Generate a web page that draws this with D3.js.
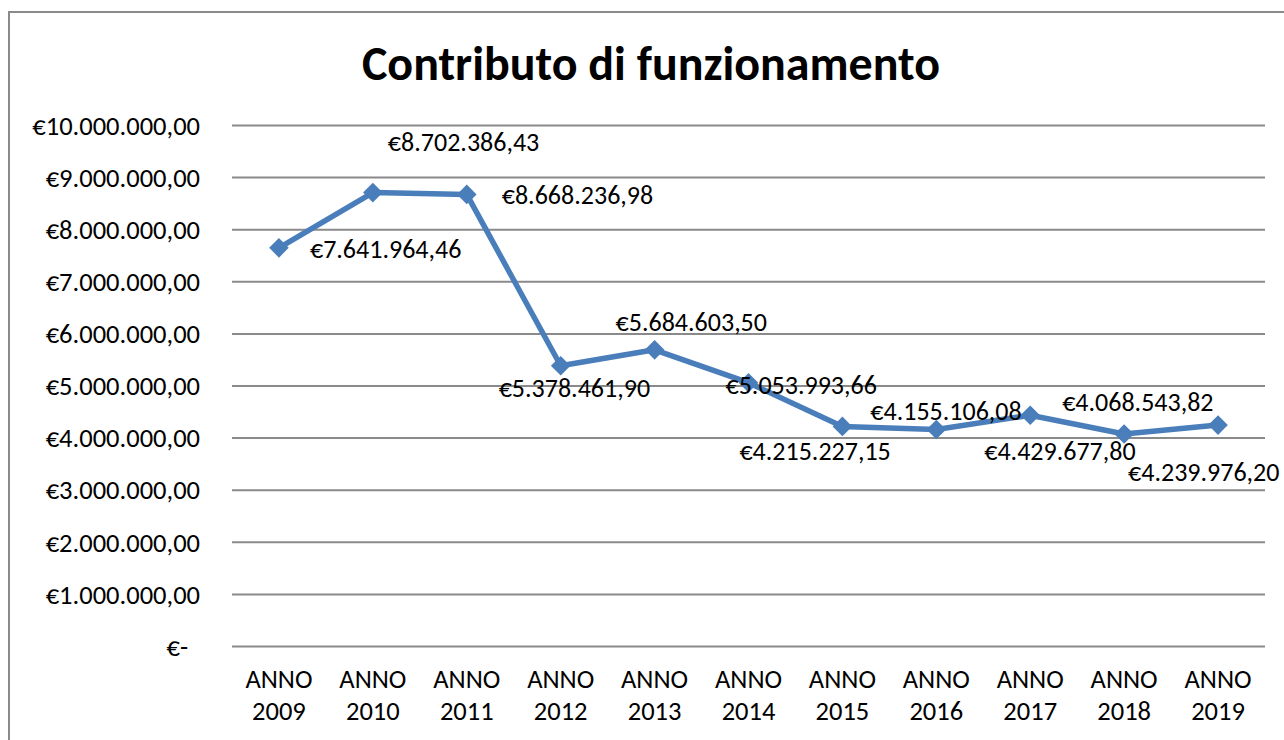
<!DOCTYPE html>
<html>
<head>
<meta charset="utf-8">
<script src="https://cdn.jsdelivr.net/npm/d3@7"></script>
<style>
  body { margin: 0; background: #fff; }
  text { font-family: Carlito, Calibri, "Liberation Sans", sans-serif; fill: #000; }
</style>
</head>
<body>
<div id="chart"></div>
<script>
var svgWidth = 1284;
var svgHeight = 740;

// data
var years = ["2009","2010","2011","2012","2013","2014","2015","2016","2017","2018","2019"];
var values = [7641964.46, 8702386.43, 8668236.98, 5378461.90, 5684603.50, 5053993.66,
              4215227.15, 4155106.08, 4429677.80, 4068543.82, 4239976.20];
var yTicks = [0,1000000,2000000,3000000,4000000,5000000,6000000,7000000,8000000,9000000,10000000];

// label offsets (dx, dy) relative to each point, as moved by hand in the original
var labelDx = [31, 15, 35, -62, -39, -23, -103, -66, -46, -62, -90];
var labelDy = [1, -51, 1, 22, -28, 2, 25, -19, 36, -32, 47];

var it = d3.formatLocale({decimal: ",", thousands: ".", grouping: [3], currency: ["€", ""]});
var euro = it.format("$,.2f");

var svg = d3.select("#chart").append("svg").attr("width", svgWidth).attr("height", svgHeight);

// outer frame
svg.append("rect").attr("x", 9).attr("y", 12).attr("width", 1400).attr("height", 900)
    .attr("fill", "none").attr("stroke", "#8a8a8a").attr("stroke-width", 2);

svg.append("text").attr("x", 651).attr("y", 80).attr("text-anchor", "middle")
    .attr("font-size", "48px").attr("font-weight", "bold").text("Contributo di funzionamento");

var xScale = d3.scaleBand().domain(years).range([232, 1265]);
var yScale = d3.scaleLinear().domain([0, 10000000]).range([646, 125]);

// gridlines + y labels
var yAxis = svg.append("g").attr("transform", "translate(232,0)")
    .call(d3.axisLeft(yScale).tickValues(yTicks).tickSize(-1033).tickPadding(32)
        .tickFormat(function(d){ return d === 0 ? "€-" : euro(d); }));
yAxis.select(".domain").remove();
yAxis.selectAll("line").attr("stroke", "#8a8a8a").attr("stroke-width", 2);
yAxis.selectAll("text").attr("font-size", "26.5px").attr("dy", "0.35em")
    .attr("dx", function(d){ return d === 0 ? -12 : 0; });
yAxis.attr("font-family", null).attr("font-size", null);

// x labels
var xLab = svg.append("g").selectAll("text").data(years).enter().append("text")
    .attr("x", function(d){ return xScale(d) + xScale.bandwidth() / 2; })
    .attr("text-anchor", "middle").attr("font-size", "26.5px");
xLab.append("tspan").attr("x", function(d){ return xScale(d) + xScale.bandwidth() / 2; }).attr("y", 688).text("ANNO");
xLab.append("tspan").attr("x", function(d){ return xScale(d) + xScale.bandwidth() / 2; }).attr("y", 720).text(function(d){ return d; });

var px = function(d, i){ return xScale(years[i]) + xScale.bandwidth() / 2; };
var line = d3.line().x(px).y(function(d){ return yScale(d); });

svg.append("path").datum(values).attr("d", line).attr("fill", "none")
    .attr("stroke", "#4a7ebb").attr("stroke-width", 5.5).attr("stroke-linejoin", "round");

svg.append("g").selectAll("path").data(values).enter().append("path")
    .attr("d", d3.symbol().type(d3.symbolDiamond2).size(245))
    .attr("transform", function(d, i){ return "translate(" + px(d, i) + "," + yScale(d) + ")"; })
    .attr("fill", "#4a7ebb");

svg.append("g").selectAll("text").data(values).enter().append("text")
    .attr("x", function(d, i){ return px(d, i) + labelDx[i]; })
    .attr("y", function(d, i){ return yScale(d) + labelDy[i]; })
    .attr("dy", "0.35em").attr("font-size", "26px")
    .text(function(d){ return euro(d); });
</script>
</body>
</html>
